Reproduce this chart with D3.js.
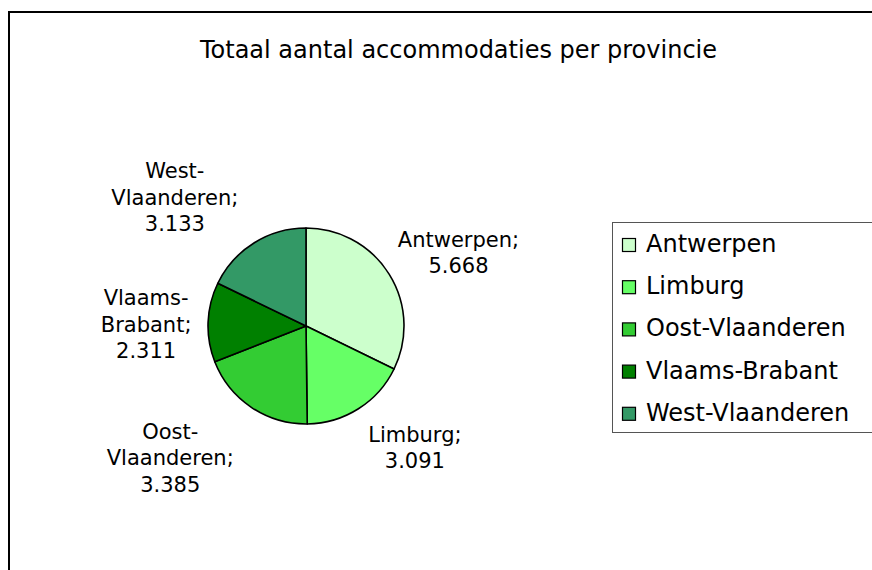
<!DOCTYPE html>
<html>
<head>
<meta charset="utf-8">
<script src="https://cdn.jsdelivr.net/npm/d3@7"></script>
<style>
  body { margin: 0; background: #fff; }
  svg { display: block; font-family: "DejaVu Sans", Verdana, sans-serif; }
</style>
</head>
<body>
<svg id="chart" width="872" height="570"></svg>
<script>
// data
const provinces = ["Antwerpen", "Limburg", "Oost-Vlaanderen", "Vlaams-Brabant", "West-Vlaanderen"];
const counts = [5668, 3091, 3385, 2311, 3133];
const colors = ["#ccffcc", "#66ff66", "#33cc33", "#008000", "#339966"];
// label lines as Excel wraps them
const labelLines = [
    ["Antwerpen;", "5.668"],
    ["Limburg;", "3.091"],
    ["Oost-", "Vlaanderen;", "3.385"],
    ["Vlaams-", "Brabant;", "2.311"],
    ["West-", "Vlaanderen;", "3.133"]
];
const title = "Totaal aantal accommodaties per provincie";

const width = 872, height = 570;
const svg = d3.select("#chart");

// chart area frame (runs off the right / bottom edge)
svg.append("rect")
    .attr("x", 9).attr("y", 12)
    .attr("width", width).attr("height", height)
    .attr("fill", "none").attr("stroke", "#000").attr("stroke-width", 2);

svg.append("text")
    .attr("x", 458.5).attr("y", 58)
    .attr("text-anchor", "middle")
    .attr("font-size", 24)
    .attr("fill", "#000")
    .text(title);

const cx = 306, cy = 326, r = 98;
const data = provinces.map((p, i) => ({ name: p, value: counts[i], color: colors[i], lines: labelLines[i] }));

const pie = d3.pie().sort(null).value(d => d.value);
const arc = d3.arc().innerRadius(0).outerRadius(r);
const arcs = pie(data);

const g = svg.append("g").attr("transform", `translate(${cx},${cy})`);
g.selectAll("path").data(arcs).join("path")
    .attr("d", arc)
    .attr("fill", d => d.data.color)
    .attr("stroke", "#000")
    .attr("stroke-width", 1.6)
    .attr("stroke-linejoin", "round");

// labels: centroid on an outer ring, then nudged like Excel's best fit
const labelArc = d3.arc().innerRadius(r + 70).outerRadius(r + 70);
const nudge = [[10, 16], [19, -20], [-42, -7], [8, 5], [-42, 14]];
const lineH = 26.8;
const lbl = g.selectAll("g.lbl").data(arcs).join("g").attr("class", "lbl");
lbl.each(function(d, k) {
    const c = labelArc.centroid(d);
    const lx = c[0] + nudge[k][0], ly = c[1] + nudge[k][1];
    const n = d.data.lines.length;
    const t = d3.select(this).append("text")
        .attr("text-anchor", "middle")
        .attr("font-size", 21)
        .attr("fill", "#000");
    d.data.lines.forEach((s, i) => {
        t.append("tspan")
            .attr("x", lx)
            .attr("y", ly + (i - (n - 1) / 2) * lineH + 7)
            .text(s);
    });
});

// legend
const legX = 612, legY = 222, rowH = 42.2;
svg.append("rect")
    .attr("x", legX + 0.5).attr("y", legY + 0.5)
    .attr("width", 300).attr("height", 210)
    .attr("fill", "#fff").attr("stroke", "#555").attr("stroke-width", 1);

const leg = svg.append("g").selectAll("g").data(data).join("g")
    .attr("transform", (d, i) => `translate(${legX + 10},${legY + 30 + i * rowH})`);
leg.append("rect")
    .attr("x", 0.5).attr("y", -13.5)
    .attr("width", 13).attr("height", 13)
    .attr("fill", d => d.color)
    .attr("stroke", "#000").attr("stroke-width", 1.2);
leg.append("text")
    .attr("x", 24).attr("y", 0)
    .attr("font-size", 24)
    .attr("fill", "#000")
    .text(d => d.name);
</script>
</body>
</html>
